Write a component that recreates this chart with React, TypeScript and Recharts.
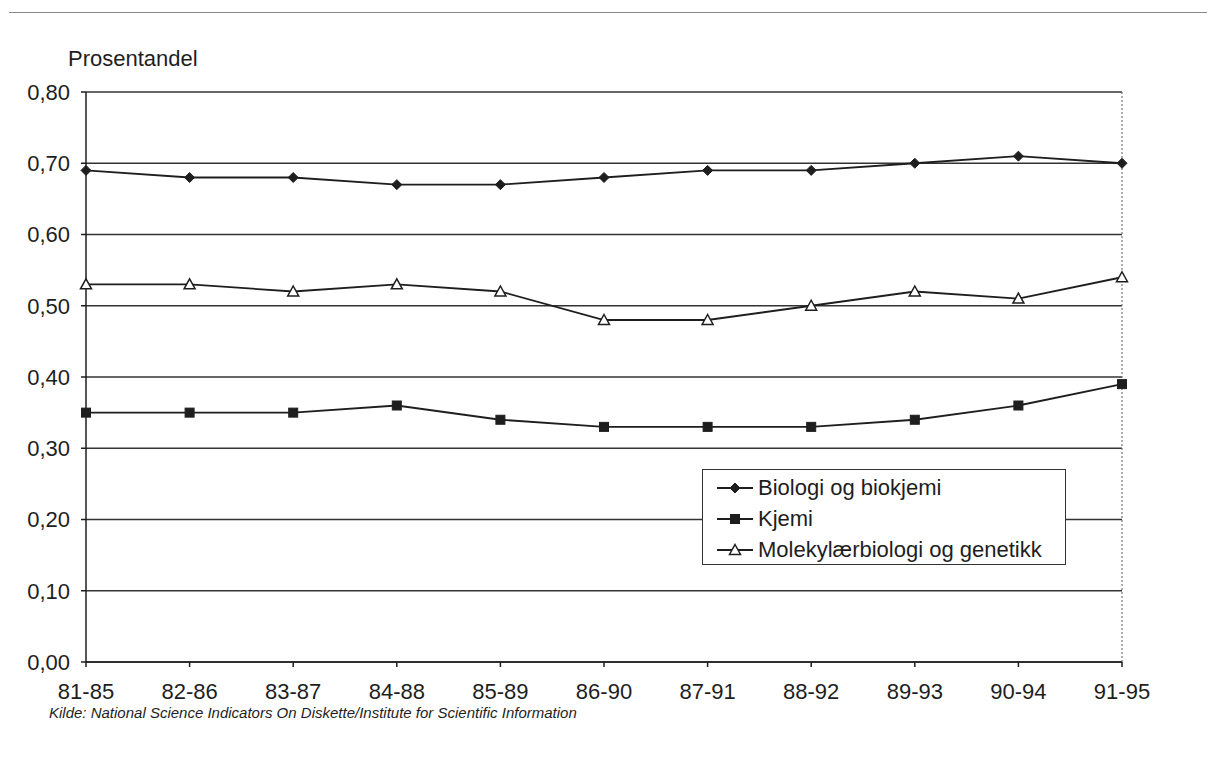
import React from "react";
import { LineChart, Line, XAxis, YAxis, CartesianGrid, ReferenceLine } from "recharts";

const categories = ["81-85", "82-86", "83-87", "84-88", "85-89", "86-90", "87-91", "88-92", "89-93", "90-94", "91-95"];
const biologi = [0.69, 0.68, 0.68, 0.67, 0.67, 0.68, 0.69, 0.69, 0.70, 0.71, 0.70];
const kjemi = [0.35, 0.35, 0.35, 0.36, 0.34, 0.33, 0.33, 0.33, 0.34, 0.36, 0.39];
const molekyl = [0.53, 0.53, 0.52, 0.53, 0.52, 0.48, 0.48, 0.50, 0.52, 0.51, 0.54];
const yTicks = [0, 0.1, 0.2, 0.3, 0.4, 0.5, 0.6, 0.7, 0.8];
const seriesNames = ["Biologi og biokjemi", "Kjemi", "Molekylærbiologi og genetikk"];

const data = categories.map((c, i) => ({ cat: c, bio: biologi[i], kje: kjemi[i], mol: molekyl[i] }));

const FONT = "'Liberation Sans', Arial, Helvetica, sans-serif";
const INK = "#1e1e1e";

const Diamond = (props: any) => {
  const { cx, cy } = props;
  if (cx == null || cy == null) return null;
  const r = 5;
  return <path d={`M${cx},${cy - r} L${cx + r},${cy} L${cx},${cy + r} L${cx - r},${cy} Z`} fill={INK} stroke={INK} strokeWidth={1} />;
};
const Square = (props: any) => {
  const { cx, cy } = props;
  if (cx == null || cy == null) return null;
  const r = 4.5;
  return <rect x={cx - r} y={cy - r} width={2 * r} height={2 * r} fill={INK} stroke={INK} strokeWidth={1} />;
};
const Triangle = (props: any) => {
  const { cx, cy } = props;
  if (cx == null || cy == null) return null;
  const r = 5.5;
  return <path d={`M${cx},${cy - r} L${cx + r},${cy + r * 0.8} L${cx - r},${cy + r * 0.8} Z`} fill="#fff" stroke={INK} strokeWidth={1.5} />;
};

const LegendIcon = ({ kind }: { kind: number }) => (
  <svg width={36} height={14} style={{ display: "block" }}>
    <line x1={0} y1={7} x2={36} y2={7} stroke={INK} strokeWidth={1.8} />
    {kind === 0 && <Diamond cx={18} cy={7} />}
    {kind === 1 && <Square cx={18} cy={7} />}
    {kind === 2 && <Triangle cx={18} cy={7} />}
  </svg>
);

const LegendBox = () => (
  <div
    style={{
      position: "absolute",
      left: 702,
      top: 469,
      width: 364,
      height: 96,
      border: "1.5px solid #333",
      background: "#fff",
      boxSizing: "border-box",
      padding: "2px 0 0 14px",
      fontFamily: FONT,
      fontSize: 22,
      color: INK,
    }}
  >
    {seriesNames.map((n, i) => (
      <div key={n} style={{ display: "flex", alignItems: "center", height: 31 }}>
        <LegendIcon kind={i} />
        <span style={{ marginLeft: 5, whiteSpace: "nowrap" }}>{n}</span>
      </div>
    ))}
  </div>
);

const fmt = (v: number) => v.toFixed(2).replace(".", ",");

export default function App() {
  return (
    <div style={{ position: "absolute", left: 0, top: 0, width: 1207, height: 757, background: "#fff", fontFamily: FONT }}>
      <div style={{ position: "absolute", left: 9, top: 12, width: 1198, height: 0, borderTop: "1.5px solid #8a8a8a" }} />
      <div style={{ position: "absolute", left: 68, top: 48, fontSize: 22, lineHeight: "22px", color: INK }}>Prosentandel</div>
      <LineChart width={1207} height={757} data={data} margin={{ top: 92, right: 85, bottom: 55, left: 0 }}>
        <CartesianGrid vertical={false} stroke="#333" strokeWidth={1.5} />
        <ReferenceLine x="91-95" stroke="#777" strokeDasharray="2 2" strokeWidth={1.2} />
        <XAxis
          dataKey="cat"
          scale="point"
          padding={{ left: 0, right: 0 }}
          height={40}
          tickSize={5}
          tickMargin={16}
          stroke={INK}
          strokeWidth={1.5}
          tick={{ fill: INK, fontSize: 22, fontFamily: FONT }}
          interval={0}
        />
        <YAxis
          domain={[0, 0.8]}
          ticks={yTicks}
          tickFormatter={fmt}
          width={86}
          tickSize={5}
          tickMargin={11}
          stroke={INK}
          strokeWidth={1.5}
          tick={{ fill: INK, fontSize: 22, fontFamily: FONT }}
          interval={0}
        />
        <Line dataKey="bio" name={seriesNames[0]} stroke={INK} strokeWidth={1.8} dot={<Diamond />} isAnimationActive={false} />
        <Line dataKey="kje" name={seriesNames[1]} stroke={INK} strokeWidth={1.8} dot={<Square />} isAnimationActive={false} />
        <Line dataKey="mol" name={seriesNames[2]} stroke={INK} strokeWidth={1.8} dot={<Triangle />} isAnimationActive={false} />
      </LineChart>
      <LegendBox />
      <div style={{ position: "absolute", left: 49, top: 705, fontSize: 15, lineHeight: "15px", fontStyle: "italic", color: INK, whiteSpace: "nowrap" }}>
        Kilde: National Science Indicators On Diskette/Institute for Scientific Information
      </div>
    </div>
  );
}
